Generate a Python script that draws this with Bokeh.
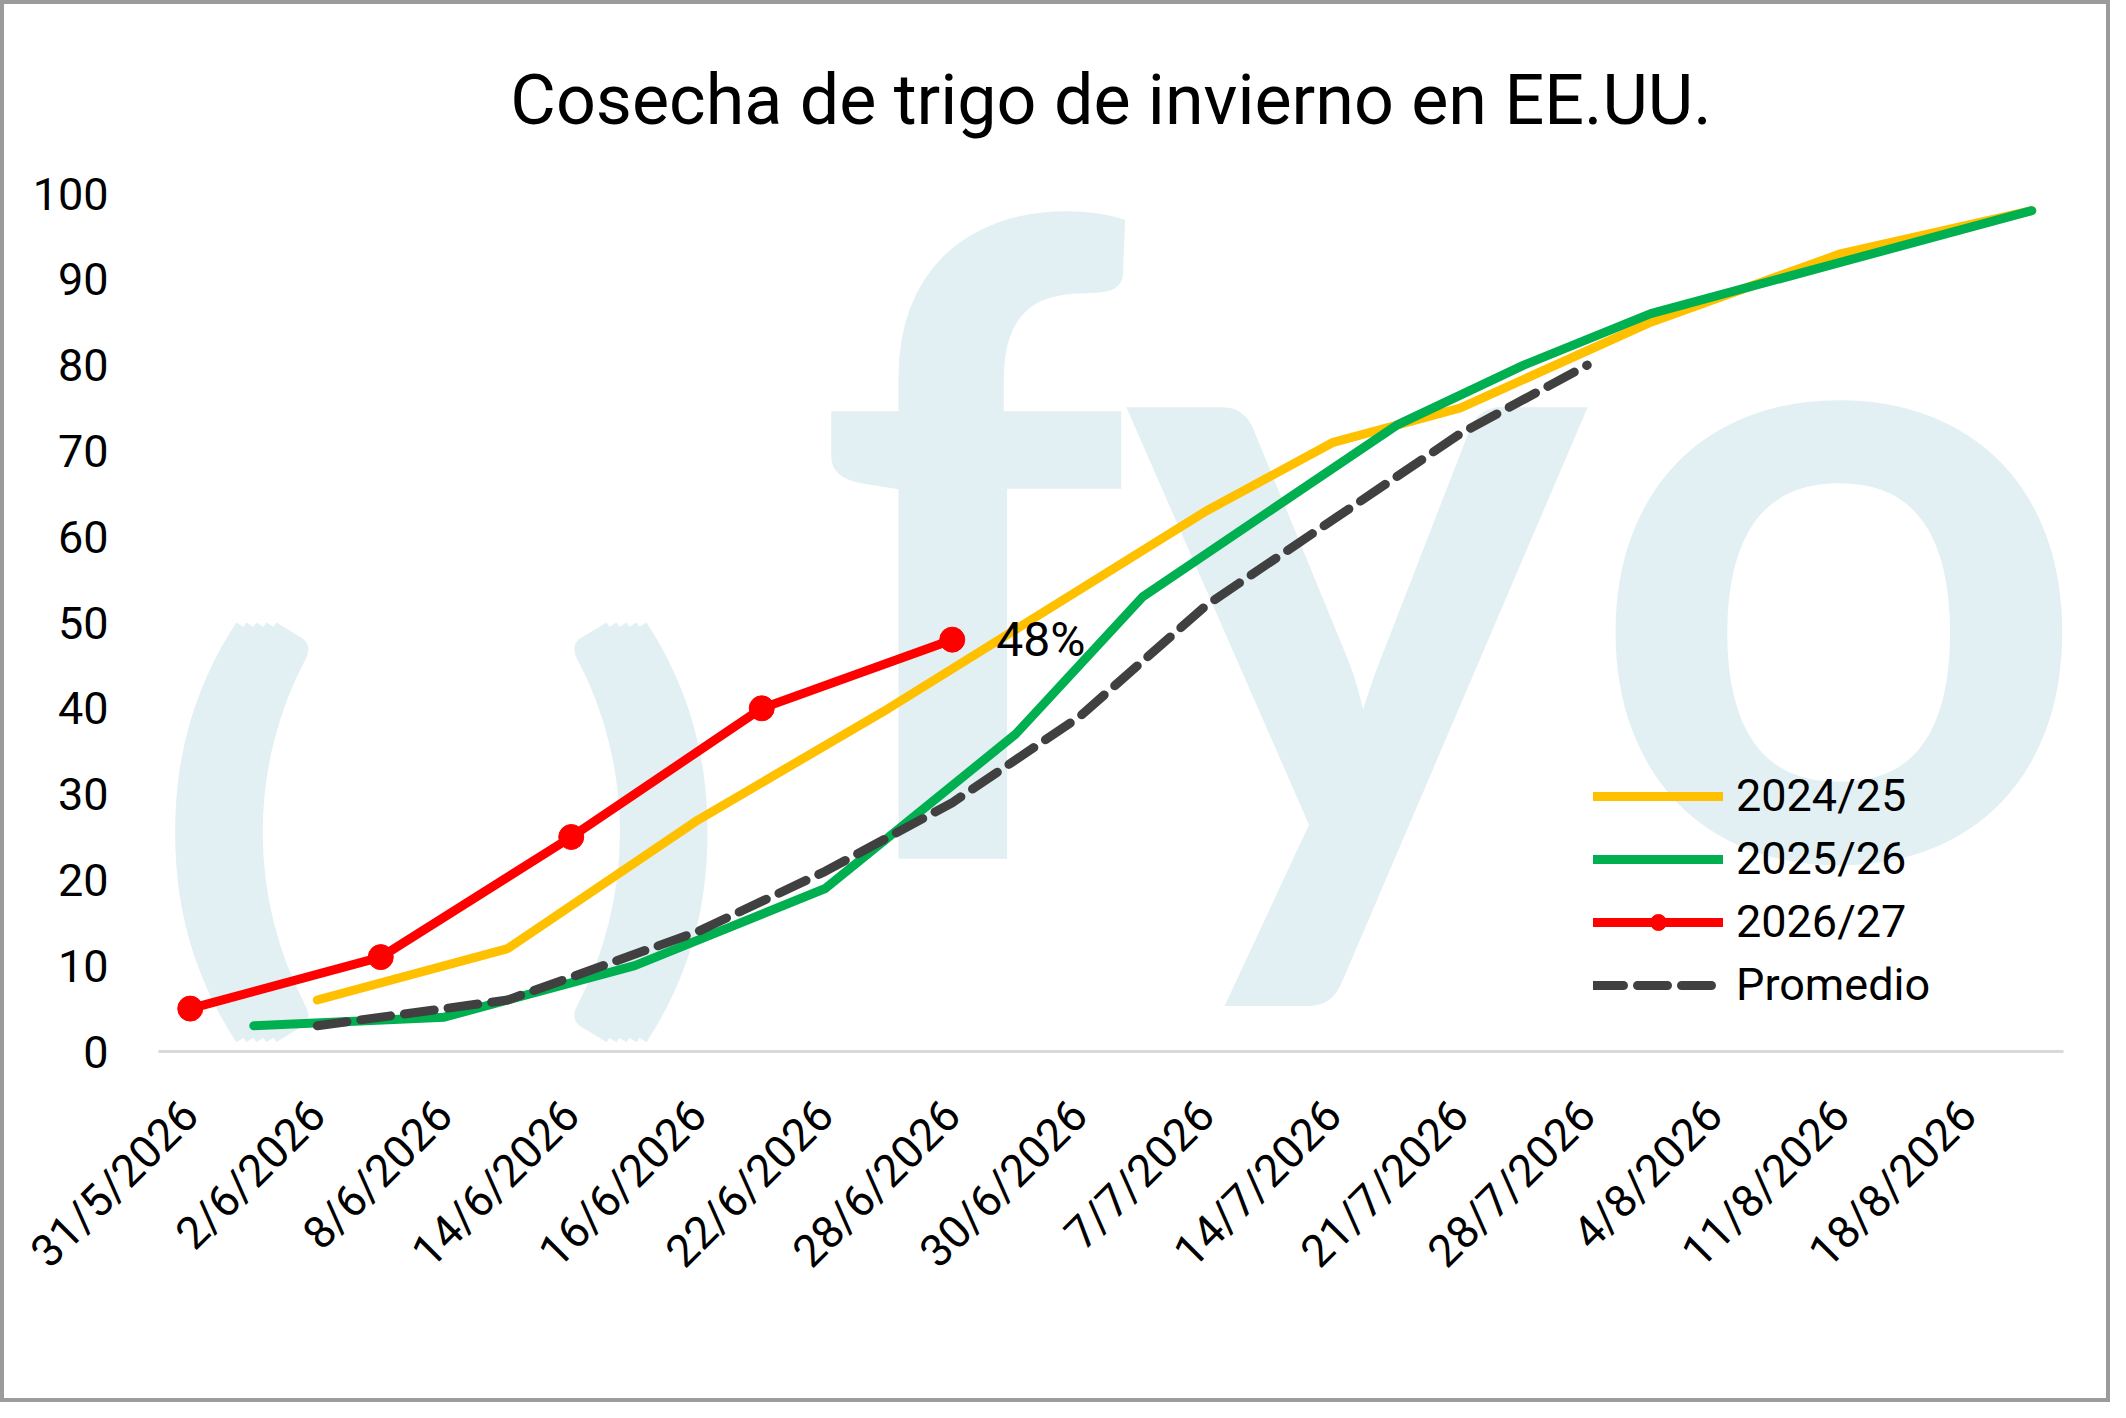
import math
from bokeh.plotting import figure
from bokeh.models import Range1d, FixedTicker, Label, Legend, LegendItem
from bokeh.embed import file_html
from bokeh.resources import INLINE

# category labels of the x axis and where they sit
dates = ["31/5/2026", "2/6/2026", "8/6/2026", "14/6/2026", "16/6/2026",
         "22/6/2026", "28/6/2026", "30/6/2026", "7/7/2026", "14/7/2026",
         "21/7/2026", "28/7/2026", "4/8/2026", "11/8/2026", "18/8/2026"]
date_pos = [0.25, 1.25, 2.25, 3.25, 4.25, 5.25, 6.25, 7.25, 8.25, 9.25,
            10.25, 11.25, 12.25, 13.25, 14.25]
y_ticks = [0, 10, 20, 30, 40, 50, 60, 70, 80, 90, 100]

# % harvested
x_2024 = [1.25, 2.75, 4.25, 5.75, 8.25, 9.25, 10.25, 11.75, 13.25, 14.75]
y_2024 = [6, 12, 27, 40, 63, 71, 75, 85, 93, 98]

x_2025 = [0.75, 2.25, 3.75, 5.25, 6.75, 7.75, 9.75, 10.75, 11.75, 13.25, 14.75]
y_2025 = [3, 4, 10, 19, 37, 53, 73, 80, 86, 92, 98]

x_2026 = [0.25, 1.75, 3.25, 4.75, 6.25]
y_2026 = [5, 11, 25, 40, 48]

x_avg = [1.25, 2.75, 4.25, 5.25, 6.25, 7.25, 8.25, 9.25, 10.25, 11.25]
y_avg = [3, 6, 14, 21, 29, 39, 52, 62, 72, 80]

FONT = "Roboto"
WM = "#E2F0F4"


def px_x(px):
    # picture pixel -> x data (frame 158.6..2064 = 0..15)
    return (px - 158.6) / 127.0


def px_y(py):
    # picture pixel -> y data (1051.5 = 0, 194 = 100)
    return (1051.5 - py) / 8.575


p = figure(width=2110, height=1402, output_backend="svg", toolbar_location=None,
           x_range=Range1d(0, 15), y_range=Range1d(0, 100),
           min_border_left=154, min_border_right=51,
           min_border_top=189, min_border_bottom=355)
p.styles = {"border": "4px solid #9B9B9B"}
p.outline_line_color = None
p.grid.grid_line_color = None

p.title.text = "Cosecha de trigo de invierno en EE.UU."
p.title.align = "center"
p.title.text_font = FONT
p.title.text_font_style = "normal"
p.title.text_font_size = "70px"
p.title.text_color = "black"
p.title.standoff = 105

# fyo watermark
for ch, cx in [("f", 971), ("y", 1356), ("o", 1839)]:
    p.add_layout(Label(x=px_x(cx), y=px_y(518), text=ch, text_font="Lato",
                       text_font_style="bold", text_font_size="880px",
                       text_color=WM, text_align="center",
                       text_baseline="alphabetic", level="underlay"))
for ch, cx in [("(", 240), (")", 643)]:
    for dx in (-20, -10, 0, 10, 20):
        p.add_layout(Label(x=px_x(cx + dx), y=px_y(800), text=ch, text_font="Lato",
                           text_font_style="bold", text_font_size="445px",
                           text_color=WM, text_align="center",
                           text_baseline="middle", level="underlay"))

l1 = p.line(x_2024, y_2024, line_color="#FFC000", line_width=9,
            line_cap="round", line_join="round")
l2 = p.line(x_2025, y_2025, line_color="#00B050", line_width=9,
            line_cap="round", line_join="round")
l4 = p.line(x_avg, y_avg, line_color="#404040", line_width=9,
            line_cap="round", line_dash="30 14")
l3 = p.line(x_2026, y_2026, line_color="#FF0000", line_width=9,
            line_cap="round", line_join="round")
s3 = p.scatter(x_2026, y_2026, size=25, color="#FF0000")

p.add_layout(Label(x=x_2026[-1], y=y_2026[-1], text=f"{y_2026[-1]}%",
                   x_offset=44, text_baseline="middle", text_font=FONT,
                   text_font_size="48px", text_color="black"))

# axes
p.xaxis.ticker = FixedTicker(ticks=date_pos)
p.xaxis.major_label_overrides = {t: d for t, d in zip(date_pos, dates)}
p.xaxis.major_label_orientation = math.pi / 4
p.xaxis.major_label_standoff = 56
p.xaxis.axis_line_color = "#D9D9D9"
p.xaxis.axis_line_width = 3

p.yaxis.ticker = FixedTicker(ticks=y_ticks)
p.yaxis.major_label_standoff = 50
p.yaxis.axis_line_color = None

for ax in (p.xaxis, p.yaxis):
    ax.major_tick_line_color = None
    ax.minor_tick_line_color = None
    ax.major_tick_out = 0
    ax.major_tick_in = 0
    ax.major_label_text_font = FONT
    ax.major_label_text_font_size = "45px"
    ax.major_label_text_color = "black"

# legend kept inside the plot area (empty lower-right corner)
legend = Legend(items=[LegendItem(label="2024/25", renderers=[l1]),
                       LegendItem(label="2025/26", renderers=[l2]),
                       LegendItem(label="2026/27", renderers=[l3, s3]),
                       LegendItem(label="Promedio", renderers=[l4])],
                orientation="vertical", location=(1435, 40),
                glyph_width=130, glyph_height=40, label_standoff=13,
                label_width=200, spacing=10,
                padding=0, margin=0, label_text_font=FONT,
                label_text_font_size="45px", label_text_color="black",
                border_line_color=None, background_fill_alpha=0)
p.add_layout(legend)

open("out.html", "w").write(file_html(p, INLINE))
